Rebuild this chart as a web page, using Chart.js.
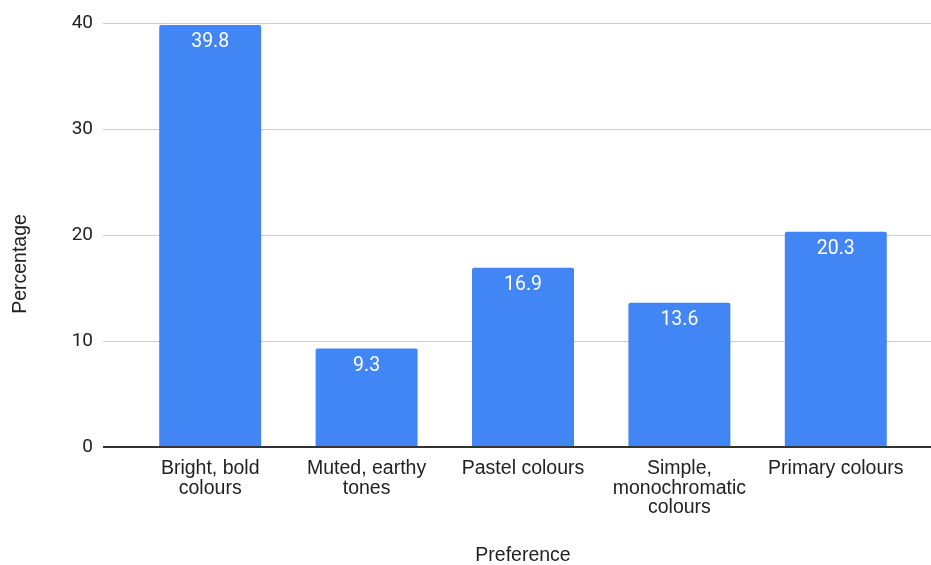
<!DOCTYPE html>
<html>
<head>
<meta charset="utf-8">
<title>Colour preference</title>
<script src="https://cdn.jsdelivr.net/npm/chart.js@4.4.1/dist/chart.umd.min.js"></script>
<style>
    html, body { margin: 0; padding: 0; background: #fff; }
    #wrap { width: 931px; height: 565px; }
</style>
</head>
<body>
<div id="wrap"><canvas id="prefChart" width="931" height="565"></canvas></div>
<script>
const categories = [
    ['Bright, bold', 'colours'],
    ['Muted, earthy', 'tones'],
    ['Pastel colours'],
    ['Simple,', 'monochromatic', 'colours'],
    ['Primary colours']
];
const percentages = [39.8, 9.3, 16.9, 13.6, 20.3];
const yTicks = [0, 10, 20, 30, 40];

const BAR_BLUE = '#4285f4';
const TEXT = '#222222';
const SANS = '"Liberation Sans", Arial, sans-serif';

// horizontal gridlines run wider than the category band, plus the dark baseline
const gridLines = {
    id: 'gridLines',
    beforeDatasetsDraw(chart) {
        const { ctx } = chart;
        const y = chart.scales.y;
        ctx.save();
        ctx.strokeStyle = '#cccccc';
        ctx.lineWidth = 1;
        yTicks.forEach(v => {
            if (v === 0) return;
            const py = Math.round(y.getPixelForValue(v)) + 0.5;
            ctx.beginPath();
            ctx.moveTo(103, py);
            ctx.lineTo(931, py);
            ctx.stroke();
        });
        ctx.restore();
    },
    afterDatasetsDraw(chart) {
        const { ctx } = chart;
        const y = chart.scales.y;
        const py = Math.round(y.getPixelForValue(0));
        ctx.save();
        ctx.strokeStyle = '#333333';
        ctx.lineWidth = 2;
        ctx.beginPath();
        ctx.moveTo(103, py);
        ctx.lineTo(931, py);
        ctx.stroke();
        ctx.restore();
    }
};

// value printed inside the top of each bar
const barValues = {
    id: 'barValues',
    afterDatasetsDraw(chart) {
        const { ctx } = chart;
        const meta = chart.getDatasetMeta(0);
        ctx.save();
        ctx.fillStyle = '#ffffff';
        ctx.font = '19.5px Roboto';
        ctx.textAlign = 'center';
        ctx.textBaseline = 'middle';
        meta.data.forEach((bar, i) => {
            ctx.fillText(percentages[i].toFixed(1), bar.x, bar.y + 17.5);
        });
        ctx.restore();
    }
};

// y axis title, centred on the full canvas height
const yTitle = {
    id: 'yTitle',
    afterDraw(chart) {
        const { ctx } = chart;
        ctx.save();
        ctx.translate(21, 264);
        ctx.rotate(-Math.PI / 2);
        ctx.fillStyle = TEXT;
        ctx.font = '19.5px ' + SANS;
        ctx.textAlign = 'center';
        ctx.textBaseline = 'middle';
        ctx.fillText('Percentage', 0, 0);
        ctx.restore();
    }
};

const ctx = document.getElementById('prefChart').getContext('2d');
const chart = new Chart(ctx, {
    type: 'bar',
    data: {
        labels: categories,
        datasets: [{
            label: 'Percentage',
            data: percentages,
            backgroundColor: BAR_BLUE,
            barPercentage: 0.652,
            categoryPercentage: 1,
            borderRadius: { topLeft: 2, topRight: 2 },
            borderSkipped: 'bottom'
        }]
    },
    options: {
        responsive: false,
        devicePixelRatio: 1,
        animation: false,
        layout: { padding: { top: 23, right: 17, left: 0, bottom: 0 } },
        plugins: {
            legend: { display: false },
            tooltip: { enabled: false }
        },
        scales: {
            x: {
                grid: { display: false, drawTicks: false },
                border: { display: false },
                ticks: {
                    color: TEXT,
                    padding: 12,
                    maxRotation: 0,
                    autoSkip: false,
                    font: { family: SANS, size: 19.5, lineHeight: 1.0 }
                },
                title: {
                    display: true,
                    text: 'Preference',
                    color: TEXT,
                    padding: { top: 0, bottom: 0 },
                    font: { family: SANS, size: 19.5, lineHeight: 1.0 }
                },
                afterFit(scale) { scale.height = 118; }
            },
            y: {
                min: 0,
                max: 40,
                grid: { display: false, drawTicks: false },
                border: { display: false },
                ticks: {
                    stepSize: 10,
                    color: TEXT,
                    padding: 39,
                    font: { family: 'Roboto', size: 19 }
                },
                afterFit(scale) {
                    // fixed gutter; tick padding should not push the plot down
                    scale.width = 132;
                    scale.paddingTop = 0;
                    scale.paddingBottom = 0;
                }
            }
        }
    },
    plugins: [gridLines, barValues, yTitle]
});
</script>
</body>
</html>
